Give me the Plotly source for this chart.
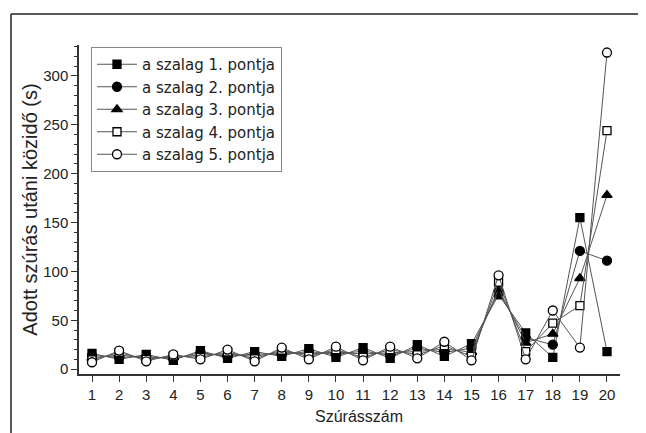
import plotly.graph_objects as go

x_vals = list(range(1, 21))
series_names = ["a szalag 1. pontja", "a szalag 2. pontja", "a szalag 3. pontja",
                "a szalag 4. pontja", "a szalag 5. pontja"]
s1 = [16, 10, 15, 9, 19, 11, 18, 13, 21, 12, 22, 11, 25, 13, 26, 76, 37, 12, 155, 18]
s2 = [14, 12, 13, 10.5, 17, 13, 15.5, 15, 18, 15, 18.5, 14, 21.5, 17, 21.5, 79, 32, 25, 121, 111]
s3 = [11.5, 14.5, 11.5, 12, 14.5, 15.5, 13, 17.5, 15.5, 17.5, 15.5, 17, 18, 20.5, 17.5, 82, 27, 36, 93, 178]
s4 = [9.5, 17, 10, 13.5, 12, 17.5, 10.5, 19.5, 13, 20, 12, 20, 14.5, 24, 13, 89, 18, 47, 65, 244]
s5 = [7, 19, 8, 15, 10, 20, 8, 22, 10, 23, 9, 23, 11, 28, 9, 96, 10, 60, 22, 324]
y_ticks = [0, 50, 100, 150, 200, 250, 300]
x_title = "Szúrásszám"
y_title = "Adott szúrás utáni közidő (s)"

series = [s1, s2, s3, s4, s5]
symbols = ["square", "circle", "triangle-up", "square", "circle"]
fills = ["black", "black", "black", "white", "white"]
sizes = [8, 9, 9, 8, 9]

fig = go.Figure()
for name, ys, sym, fc, sz in zip(series_names, series, symbols, fills, sizes):
    fig.add_trace(go.Scatter(
        x=x_vals, y=ys, name=name, mode="lines+markers",
        line=dict(color="#555555", width=1),
        marker=dict(symbol=sym, size=sz, color=fc, line=dict(color="black", width=1.3)),
    ))

W, H = 646, 433
L, R, T, B = 71, 34, 37, 67
pw = W - L - R
ph = H - T - B

def px2paper_x(px):
    return (px - L) / pw

def px2paper_y(py):
    return (H - B - py) / ph

fig.update_layout(
    width=W, height=H,
    margin=dict(l=L, r=R, t=T, b=B, pad=0),
    paper_bgcolor="white", plot_bgcolor="white",
    font=dict(family="Liberation Sans, Arial, sans-serif", color="#222222"),
    showlegend=True,
    legend=dict(
        x=px2paper_x(83), y=px2paper_y(39), xanchor="left", yanchor="top",
        bgcolor="white", bordercolor="#888888", borderwidth=1,
        font=dict(size=15, family="DejaVu Sans, sans-serif", color="#222222"),
        itemwidth=40,
    ),
    xaxis=dict(
        range=[0.52, 20.48], tickmode="array", tickvals=x_vals,
        ticktext=[str(v) for v in x_vals],
        showgrid=False, zeroline=False, showline=True, linecolor="#333333", linewidth=1.5,
        ticks="outside", ticklen=6, tickwidth=1.2, tickcolor="#333333",
        tickfont=dict(size=15),
    ),
    yaxis=dict(
        range=[-5, 331.7], tickmode="array", tickvals=y_ticks,
        showgrid=False, zeroline=False, showline=True, linecolor="#333333", linewidth=1.5,
        ticks="outside", ticklen=6, tickwidth=1.2, tickcolor="#333333",
        minor=dict(dtick=10, ticks="outside", ticklen=3, tickwidth=1, tickcolor="#333333"),
        tickfont=dict(size=15), title=dict(text=y_title, font=dict(size=20), standoff=0),
    ),
    annotations=[
        dict(text=x_title, xref="paper", yref="paper",
             x=px2paper_x(351), y=px2paper_y(408), xanchor="center", yanchor="middle",
             showarrow=False, font=dict(size=16, color="#222222")),
    ],
    shapes=[
        dict(type="line", xref="paper", yref="paper",
             x0=px2paper_x(3), x1=px2paper_x(3), y0=px2paper_y(6), y1=px2paper_y(460),
             line=dict(color="#222222", width=1.5)),
        dict(type="line", xref="paper", yref="paper",
             x0=px2paper_x(3), x1=px2paper_x(680), y0=px2paper_y(6), y1=px2paper_y(6),
             line=dict(color="#222222", width=1.5)),
    ],
)

fig.write_html("out.html")
